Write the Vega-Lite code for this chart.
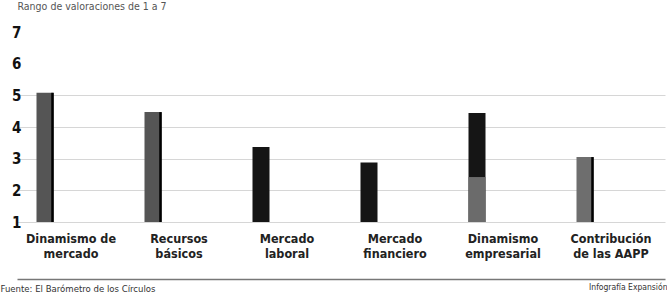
{
  "$schema": "https://vega.github.io/schema/vega-lite/v6.json",
  "width": 648,
  "height": 190,
  "autosize": {"type": "none"},
  "padding": {"left": 17, "top": 32, "right": 2, "bottom": 72},
  "background": "white",
  "config": {"view": {"stroke": null}, "font": "'DejaVu Sans Condensed', 'Liberation Sans', sans-serif"},
  "data": {
    "values": [
      {"categoria": "Dinamismo de mercado", "valor": 5.08, "parte": "total"},
      {"categoria": "Recursos básicos", "valor": 4.47, "parte": "total"},
      {"categoria": "Mercado laboral", "valor": 3.37, "parte": "total"},
      {"categoria": "Mercado financiero", "valor": 2.88, "parte": "total"},
      {"categoria": "Dinamismo empresarial", "valor": 4.44, "parte": "total"},
      {"categoria": "Dinamismo empresarial", "valor": 2.42, "parte": "parcial"},
      {"categoria": "Contribución de las AAPP", "valor": 3.05, "parte": "total"}
    ]
  },
  "layer": [
    {
      "mark": {"type": "bar", "width": 17, "xOffset": -26},
      "encoding": {
        "x": {
          "field": "categoria",
          "type": "nominal",
          "sort": null,
          "scale": {
            "domain": ["Dinamismo de mercado", "Recursos básicos", "Mercado laboral", "Mercado financiero", "Dinamismo empresarial", "Contribución de las AAPP"],
            "paddingInner": 0,
            "paddingOuter": 0
          },
          "axis": {
            "orient": "bottom",
            "labelAngle": 0,
            "domain": false,
            "ticks": false,
            "grid": false,
            "labelPadding": 10,
            "labelFontSize": 12.5,
            "labelFontWeight": "bold",
            "labelColor": "#222",
            "labelLineHeight": 15,
            "labelBaseline": "top",
            "labelExpr": "indexof(datum.label, 'Contribución') == 0 ? ['Contribución', 'de las AAPP'] : [slice(datum.label, 0, lastindexof(datum.label, ' ')), slice(datum.label, lastindexof(datum.label, ' ') + 1)]",
            "title": "Fuente: El Barómetro de los Círculos",
            "titleAnchor": "start",
            "titleAlign": "left",
            "titleX": -17,
            "titleY": 69,
            "titleBaseline": "alphabetic",
            "titleFontSize": 9.5,
            "titleFontWeight": "normal",
            "titleColor": "#333"
          }
        },
        "y": {
          "field": "valor",
          "type": "quantitative",
          "scale": {"domain": [1, 7], "zero": false, "nice": false},
          "axis": {
            "values": [1, 2, 3, 4, 5, 6, 7],
            "tickCount": 7,
            "format": "d",
            "labelOverlap": false,
            "domain": false,
            "ticks": false,
            "labelPadding": -4,
            "labelFontSize": 15,
            "labelFontWeight": "bold",
            "labelColor": "#111",
            "grid": true,
            "gridColor": "#d6d6d6",
            "gridOpacity": {"condition": {"test": "datum.value <= 5", "value": 1}, "value": 0},
            "title": "Rango de valoraciones de 1 a 7",
            "titleAngle": 0,
            "titleX": 0,
            "titleY": -23,
            "titleAlign": "left",
            "titleBaseline": "alphabetic",
            "titleFontSize": 10.5,
            "titleFontWeight": "normal",
            "titleColor": "#555"
          }
        },
        "y2": {"datum": 1},
        "color": {
          "condition": [
            {"test": "datum.parte == 'parcial'", "value": "#6b6b6b"},
            {"test": "indexof(['Mercado laboral', 'Mercado financiero', 'Dinamismo empresarial'], datum.categoria) >= 0", "value": "#151515"},
            {"test": "datum.categoria == 'Contribución de las AAPP'", "value": "#6e6e6e"}
          ],
          "value": "#555555"
        }
      }
    },
    {
      "transform": [
        {"filter": "indexof(['Dinamismo de mercado', 'Recursos básicos', 'Contribución de las AAPP'], datum.categoria) >= 0"}
      ],
      "mark": {"type": "rule", "xOffset": -18.5, "strokeWidth": 2.5, "color": "#000"},
      "encoding": {
        "x": {
          "field": "categoria",
          "type": "nominal",
          "sort": null,
          "scale": {
            "domain": ["Dinamismo de mercado", "Recursos básicos", "Mercado laboral", "Mercado financiero", "Dinamismo empresarial", "Contribución de las AAPP"],
            "paddingInner": 0,
            "paddingOuter": 0
          },
          "axis": {
            "orient": "bottom",
            "offset": 57,
            "labels": false,
            "ticks": false,
            "grid": false,
            "domain": true,
            "domainColor": "#777",
            "domainWidth": 1.5,
            "title": "Infografía Expansión",
            "titleAnchor": "end",
            "titleAlign": "right",
            "titleX": 650,
            "titleY": 10,
            "titleBaseline": "alphabetic",
            "titleFontSize": 8.5,
            "titleFontWeight": "normal",
            "titleColor": "#333"
          }
        },
        "y": {"field": "valor", "type": "quantitative", "axis": {"values": [1, 2, 3, 4, 5, 6, 7], "tickCount": 7, "labelOverlap": false}},
        "y2": {"datum": 1}
      }
    }
  ],
  "resolve": {"scale": {"x": "independent"}, "axis": {"x": "independent"}}
}
